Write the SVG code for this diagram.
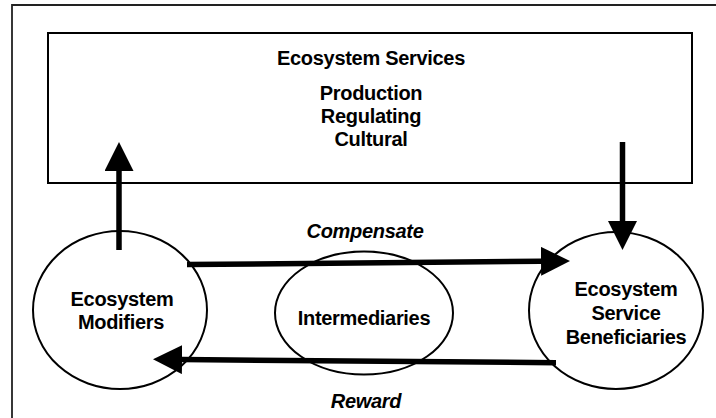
<svg xmlns="http://www.w3.org/2000/svg" width="716" height="418" viewBox="0 0 716 418">
<style>
.t{font-family:"Liberation Sans",Arial,sans-serif;font-weight:bold;font-size:20px;fill:#000;text-anchor:middle;letter-spacing:-0.3px}
.i{font-style:italic}
.shape{fill:#fff;stroke:#000;stroke-width:2}
.conn{stroke:#000;stroke-width:5.5;fill:none}
</style>
<defs>
<marker id="ah" markerUnits="userSpaceOnUse" markerWidth="30" markerHeight="30" refX="0" refY="14.5" orient="auto" viewBox="0 0 30 30">
<path d="M0,0 L29,14.5 L0,29 z" fill="#000"/>
</marker>
</defs>
<rect width="716" height="418" fill="#fff"/>
<path d="M12,418 V5 H716" fill="none" stroke="#222" stroke-width="1.8"/>
<g id="services">
<rect class="shape" x="48" y="33" width="644" height="150"/>
<text class="t" x="371" y="64.5">Ecosystem Services</text>
<text class="t" x="371" y="100">Production</text>
<text class="t" x="371" y="123">Regulating</text>
<text class="t" x="371" y="146">Cultural</text>
</g>
<g id="modifiers">
<ellipse class="shape" cx="120" cy="310" rx="87" ry="79"/>
<text class="t" x="122" y="306">Ecosystem</text>
<text class="t" x="121" y="329">Modifiers</text>
</g>
<g id="intermediaries">
<ellipse class="shape" cx="364" cy="313" rx="89" ry="61.5"/>
<text class="t" x="364" y="324.5">Intermediaries</text>
</g>
<g id="beneficiaries">
<ellipse class="shape" cx="616" cy="310.5" rx="87" ry="78.5"/>
<text class="t" x="626" y="296">Ecosystem</text>
<text class="t" x="626" y="320">Service</text>
<text class="t" x="626" y="344">Beneficiaries</text>
</g>
<g id="connectors">
<line class="conn" x1="119" y1="250" x2="119" y2="171" marker-end="url(#ah)"/>
<line class="conn" x1="622.5" y1="142" x2="622.5" y2="221" marker-end="url(#ah)"/>
<line class="conn" x1="187" y1="264.5" x2="541" y2="261.3" marker-end="url(#ah)"/>
<line class="conn" x1="556" y1="362.7" x2="182" y2="359.6" marker-end="url(#ah)"/>
<text class="t i" x="365" y="238">Compensate</text>
<text class="t i" x="366" y="407.5">Reward</text>
</g>
</svg>
